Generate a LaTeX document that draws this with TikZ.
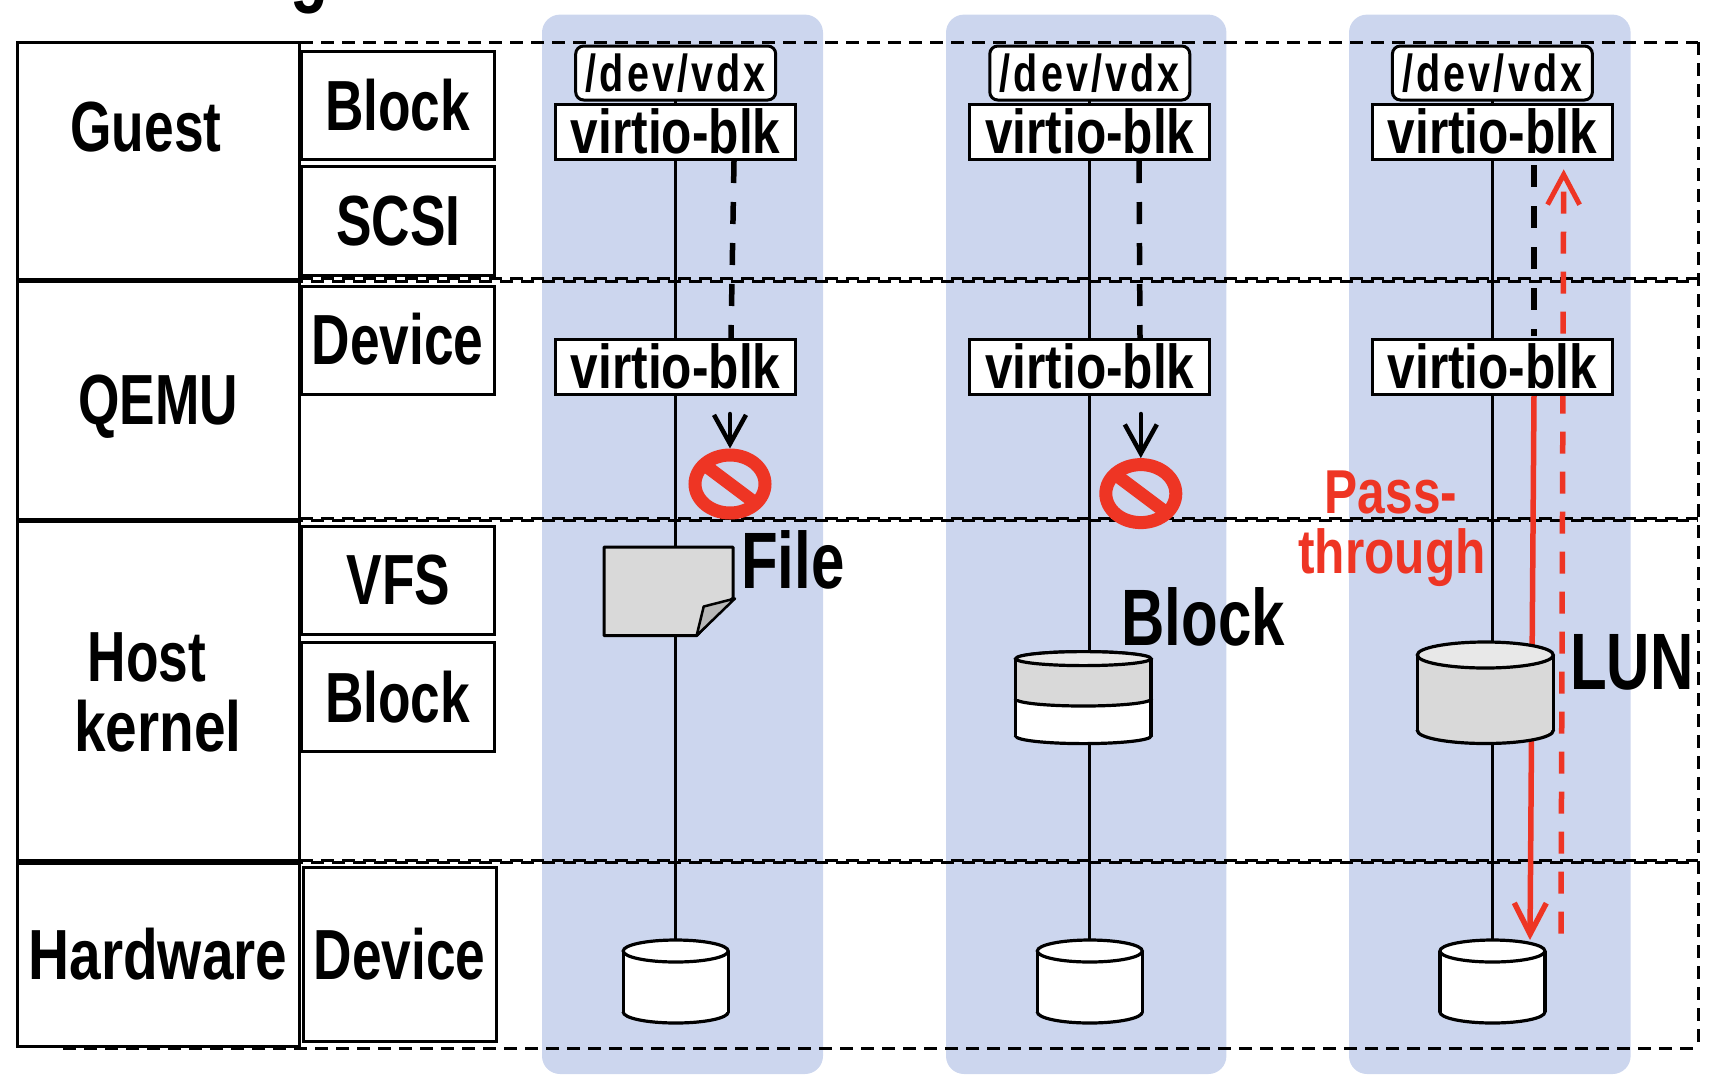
\documentclass[tikz,border=0pt]{standalone}
\usepackage{fontspec}
\usetikzlibrary{shapes.geometric,arrows.meta}
\newfontfamily\nfa[FakeStretch=0.75]{Liberation Sans}
\newfontfamily\nfb[FakeStretch=0.8]{Liberation Sans}
\newfontfamily\nfc[FakeStretch=0.76,LetterSpace=6]{Liberation Sans}
\newcommand{\fsz}[1]{\fontsize{#1}{#1}\selectfont}
\definecolor{panelblue}{HTML}{CCD6EE}
\definecolor{alertred}{HTML}{EE3524}
\definecolor{diskgray}{HTML}{D9D9D9}
\definecolor{disklight}{HTML}{E8E8E8}
\definecolor{foldgray}{HTML}{B8B8B8}
\pgfdeclarelayer{bg}
\pgfdeclarelayer{mid}
\pgfsetlayers{bg,mid,main}
\tikzset{
  panel/.style={fill=panelblue,rounded corners=18pt},
  rowline/.style={black,line width=3pt,dash pattern=on 12.5pt off 8.5pt},
  rowbox/.style={draw,line width=3pt,fill=white},
  cellbox/.style={draw,line width=3pt,fill=white,inner sep=0pt,outer sep=0pt,anchor=north,font=\nfa\bfseries\fsz{71}},
  sidelabel/.style={inner sep=0pt,anchor=base,font=\nfa\bfseries\fsz{71}},
  sidewide/.style={inner sep=0pt,anchor=base,font=\nfb\bfseries\fsz{71}},
  biglabel/.style={inner sep=0pt,anchor=base west,font=\nfa\bfseries\fsz{80}},
  redlabel/.style={inner sep=0pt,anchor=base,text=alertred,font=\nfb\bfseries\fsz{62}},
  virtio/.style={draw,line width=3pt,fill=white,inner sep=0pt,outer sep=0pt,minimum width=240pt,anchor=north,font=\nfb\bfseries\fsz{62}},
  devbox/.style={draw,line width=3pt,fill=white,rounded corners=8pt,inner sep=0pt,outer sep=0pt,minimum width=200pt,anchor=north,font=\nfc\bfseries\fsz{52}},
  conn/.style={black,line width=3pt},
  diskanchor/.style={inner sep=0pt,outer sep=0pt,anchor=north},
  diskline/.style={black,line width=3.2pt},
  stopring/.style={ellipse,draw=alertred,line width=13pt,inner sep=0pt,minimum width=70pt,minimum height=58pt},
  stopbar/.style={alertred,line width=13pt},
  iodash/.style={black,line width=5.5pt,dash pattern=on 22pt off 19pt},
  ioarrow/.style={black,line width=4.5pt,line cap=round,-{Straight Barb[length=29pt,width=32pt,line width=4.5pt]}},
  redsolid/.style={alertred,line width=5.5pt,-{Straight Barb[length=31pt,width=32pt,line width=5.5pt]}},
  reddash/.style={alertred,line width=5.5pt,dash pattern=on 22pt off 18pt,-{Straight Barb[length=30pt,width=32pt,line width=5pt]}}
}
% name, centre x, top y, x radius, height, y radius, body colour, end colour
\newcommand{\diskat}[8]{%
  \pgfmathsetmacro\dy{#3+#6}\pgfmathsetmacro\db{#3+#5-#6}%
  \pgfmathsetmacro\dl{#2-#4}\pgfmathsetmacro\dr{#2+#4}\pgfmathsetmacro\dw{2*#4}%
  \node[diskanchor,minimum width=\dw pt,minimum height=#5 pt] (#1) at (#2,#3) {};
  \fill[#7] (\dl,\dy) rectangle (\dr,\db);
  \fill[#7] (#2,\db) ellipse[x radius=#4,y radius=#6];
  \begin{scope}
    \clip (\dl-3,\db) rectangle (\dr+3,\db+#6+3);
    \draw[diskline] (#2,\db) ellipse[x radius=#4,y radius=#6];
  \end{scope}
  \draw[diskline] (\dl,\dy) -- (\dl,\db) (\dr,\dy) -- (\dr,\db);
  \draw[diskline,fill=#8] (#2,\dy) ellipse[x radius=#4,y radius=#6];
}
\begin{document}
\begin{tikzpicture}[x=1pt,y=-1pt]
\useasboundingbox (0,0) rectangle (1720,1088);
\begin{pgfonlayer}{bg}
  \fill[panel] (542,14.6) rectangle (823,1074);
  \fill[panel] (946,14.6) rectangle (1226.4,1074);
  \fill[panel] (1349,14.6) rectangle (1630.6,1074);
  \draw[rowline] (300,42.3) -- (1698,42.3);
  \draw[rowline] (300,278.6) -- (1698,278.6);
  \draw[rowline,dash phase=10pt] (300,281) -- (1698,281);
  \draw[rowline] (300,518) -- (1698,518);
  \draw[rowline,dash phase=10pt] (300,520.4) -- (1698,520.4);
  \draw[rowline] (300,860) -- (1698,860);
  \draw[rowline,dash phase=10pt] (300,862.4) -- (1698,862.4);
  \draw[rowline] (63,1048) -- (1698,1048);
  \draw[rowline] (1698,42.3) -- (1698,1048);
\end{pgfonlayer}
% left table
\draw[rowbox] (17.5,42.3) rectangle (299.5,279);
\draw[rowbox] (17.5,281.5) rectangle (299.5,519);
\draw[rowbox] (17.5,521.5) rectangle (299.5,860.5);
\draw[rowbox] (17.5,863.5) rectangle (299.5,1046);
\node[sidelabel] (guest) at (146,151) {Guest};
\node[sidelabel] (qemu) at (158,424) {QEMU};
\node[sidelabel] (host) at (147,681) {Host};
\node[sidewide] (kernel) at (158,751) {kernel};
\node[sidewide] (hardware) at (158,979.5) {Hardware};
\node[cellbox,minimum width=193pt,text height=79pt,text depth=29pt] (cblock) at (397.5,51) {Block};
\node[cellbox,minimum width=193pt,text height=78.5pt,text depth=30pt] (cscsi) at (398.3,166.5) {SCSI};
\node[cellbox,minimum width=193pt,text height=78pt,text depth=30pt] (cdevq) at (397.5,286) {Device};
\node[cellbox,minimum width=193pt,text height=78pt,text depth=30pt] (cvfs) at (398.3,526) {VFS};
\node[cellbox,minimum width=193pt,text height=79.5pt,text depth=29pt] (cblockh) at (397.5,642.5) {Block};
\node[cellbox,minimum width=193pt,text height=112.5pt,text depth=61.5pt] (cdevh) at (399.5,867) {Device};
% columns
\foreach \i/\x in {1/675.7,2/1089.8,3/1492.4}{
  \node[devbox,text height=45pt,text depth=9pt] (dev\i) at (\x,46) {/dev/vdx};
  \node[virtio,text height=49.7pt,text depth=5.3pt] (vt\i) at (\x,104) {virtio-blk};
  \node[virtio,text height=49.6pt,text depth=5.4pt] (vb\i) at (\x,339) {virtio-blk};
  \diskat{hd\i}{\x}{940}{52.5}{83}{11}{white}{white}
}
\begin{pgfonlayer}{mid}
  \foreach \i in {1,2,3}{
    \draw[conn] (dev\i) -- (vt\i);
    \draw[conn] (vt\i) -- (vb\i);
    \draw[conn] (vb\i) -- (hd\i.north);
  }
\end{pgfonlayer}
% file icon
\draw[line width=3pt,fill=diskgray,line join=round] (604,547) -- (733,547) -- (733,598) -- (696.6,635.6) -- (604,635.6) -- cycle;
\draw[line width=2.5pt,fill=foldgray,line join=round] (735,598.5) -- (703.7,606.5) -- (696.6,635.6) -- cycle;
% block volume: white disk with a grey slice on top
\diskat{vol}{1083.4}{651.6}{67.6}{92}{7.5}{white}{disklight}
\diskat{volband}{1083.4}{651.6}{67.6}{54.4}{7}{diskgray}{disklight}
% LUN
\diskat{lun}{1485.3}{642}{68}{101.5}{13}{diskgray}{disklight}
% stop signs
\node[stopring] (s1) at (730,484) {};
\draw[stopbar] ([shift={(-24,-18)}]s1.center) -- ([shift={(24,18)}]s1.center);
\node[stopring] (s2) at (1140.8,493.6) {};
\draw[stopbar] ([shift={(-24,-18)}]s2.center) -- ([shift={(24,18)}]s2.center);
% flows
\coordinate (a1t) at (734,161);
\coordinate (a1b) at (731,338);
\coordinate (a1s) at (730,414);
\coordinate (a2t) at (1139,161);
\coordinate (a2b) at (1140,338);
\coordinate (a2s) at (1140.8,414);
\coordinate (a3t) at (1534,165);
\coordinate (a3b) at (1534,336);
\coordinate (r1) at (1534,394);
\coordinate (r2) at (1530,940);
\coordinate (rd1) at (1561,933.7);
\coordinate (rd2) at (1563.7,169.3);
\begin{pgfonlayer}{mid}
  \draw[iodash] (a1t) -- (a1b);
  \draw[iodash] (a2t) -- (a2b);
  \draw[iodash] (a3t) -- (a3b);
  \draw[ioarrow] (a1s) -- (s1.north);
  \draw[ioarrow] (a2s) -- (s2.north);
  \draw[redsolid] (r1) -- (r2);
  \draw[reddash] (rd1) -- (rd2);
\end{pgfonlayer}
% labels
\node[biglabel] (lfile) at (741,588.4) {File};
\node[biglabel] (lblock) at (1121.4,645.7) {Block};
\node[biglabel] (llun) at (1570,689.7) {LUN};
\node[redlabel] (lpass) at (1391,513.6) {Pass-};
\node[redlabel] (lthrough) at (1392,573.5) {through};
\node[inner sep=0pt,anchor=base west,font=\nfa\bfseries\fsz{83}] (cut) at (290,-3.5) {g};
\end{tikzpicture}
\end{document}
